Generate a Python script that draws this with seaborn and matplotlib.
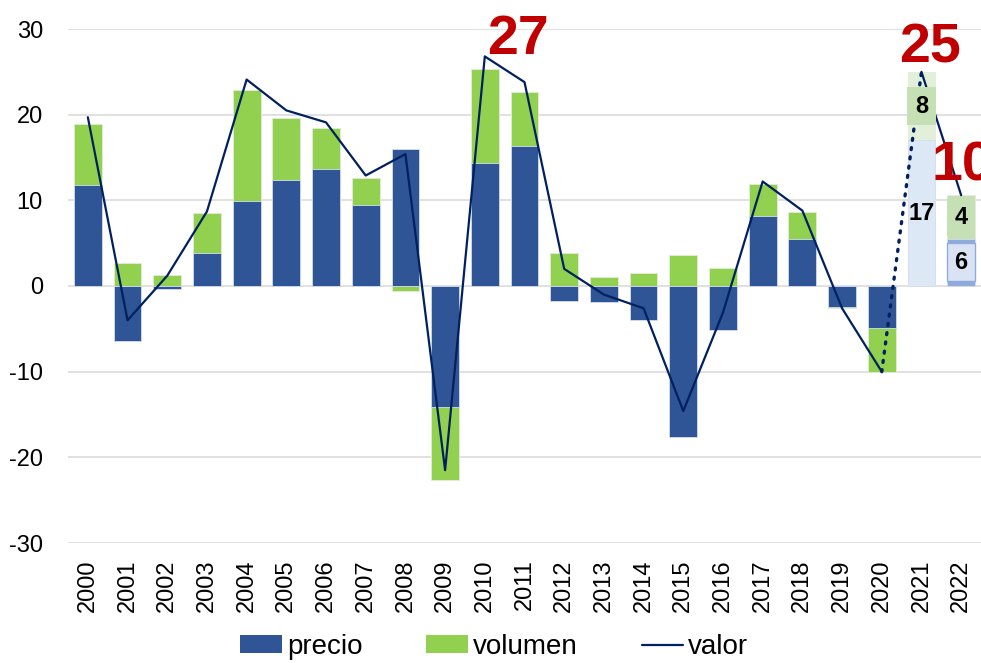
import numpy as np
import pandas as pd
import matplotlib.pyplot as plt
import seaborn as sns
from matplotlib.patches import Patch
from matplotlib.lines import Line2D

# DATA

years = ['2000', '2001', '2002', '2003', '2004', '2005', '2006', '2007',
         '2008', '2009', '2010', '2011', '2012', '2013', '2014', '2015',
         '2016', '2017', '2018', '2019', '2020', '2021', '2022']

precio = [11.8, -6.4, -0.3, 3.9, 9.9, 12.4, 13.6, 9.5, 16.0, -14.1, 14.3,
          16.4, -1.8, -1.9, -4.0, -17.6, -5.1, 8.2, 5.5, -2.5, -4.9, 17.0, 5.5]

volumen = [7.1, 2.7, 1.3, 4.6, 13.0, 7.2, 4.8, 3.1, -0.6, -8.5, 11.0,
           6.3, 3.8, 1.0, 1.5, 3.6, 2.1, 3.7, 3.1, -0.1, -5.1, 8.0, 5.1]

valor = [19.7, -4.0, 1.2, 8.7, 24.1, 20.5, 19.1, 12.9, 15.4, -21.5, 26.8,
         23.8, 2.0, -1.0, -2.6, -14.6, -3.1, 12.2, 8.8, -2.6, -10.0, 25.0, 10.6]

# data labels inside the forecast bars
forecast_years = ['2021', '2022']
precio_labels = ['17', '6']
volumen_labels = ['8', '4']

# big red labels on the valor line
highlight_years = ['2010', '2021', '2022']
highlight_labels = ['27', '25', '10']

last_real = '2020'

# COLOURS

blue = '#2f5597'
green = '#92d050'
line_color = '#002060'
red = '#c00000'

precio_colors = [blue] * (len(years) - 2) + ['#dce8f5', '#8faadc']
volumen_colors = [green] * (len(years) - 2) + ['#e2f0d9', '#c5e0b4']
precio_box = [dict(fc='none', ec='none'),
              dict(fc='#dae3f3', ec='#8faadc', lw=1.0)]
volumen_box = [dict(fc='#c5e0b4', ec='none'),
               dict(fc='#c5e0b4', ec='none')]

# PREPARE

df = pd.DataFrame({
    'year': years,
    'precio': precio,
    'volumen': volumen,
    'valor': valor
})

# stacked like Excel: positives on positives, negatives on negatives
same_sign = np.sign(df['precio']) == np.sign(df['volumen'])
df['vol_top'] = np.where(same_sign, df['precio'] + df['volumen'], df['volumen'])

# PLOT

sns.set_style('white')
plt.rcParams['font.family'] = ['Liberation Sans', 'DejaVu Sans']
plt.rcParams['axes.unicode_minus'] = False
plt.rcParams['text.color'] = 'black'
plt.rcParams['xtick.color'] = 'black'
plt.rcParams['ytick.color'] = 'black'

fig = plt.figure(figsize=(9.81, 6.63), dpi=100)
ax = fig.add_axes([68 / 981, 1 - 543 / 663, 913 / 981, 514 / 663])

sns.barplot(
    data=df, x='year', y='vol_top', hue='year',
    palette=volumen_colors, legend=False, saturation=1,
    errorbar=None, width=0.7, edgecolor='#e4ecd8', linewidth=0.6, ax=ax
)
sns.barplot(
    data=df, x='year', y='precio', hue='year',
    palette=precio_colors, legend=False, saturation=1,
    errorbar=None, width=0.7, edgecolor='#d5deec', linewidth=0.6, ax=ax
)

pos = np.arange(len(years))
k = years.index(last_real)

sns.lineplot(x=pos[:k + 1], y=valor[:k + 1], color=line_color,
             linewidth=1.6, ax=ax, zorder=3)
sns.lineplot(x=pos[k:k + 2], y=valor[k:k + 2], color=line_color,
             linewidth=2.4, linestyle=(0, (0.6, 2.2)),
             dash_capstyle='round', ax=ax, zorder=3)
sns.lineplot(x=pos[k + 1:], y=valor[k + 1:], color=line_color,
             linewidth=1.6, ax=ax, zorder=3)

# labels inside the forecast bars
for i, yr in enumerate(forecast_years):
    j = years.index(yr)
    p = precio[j]
    v = volumen[j]
    ax.text(j, p / 2, precio_labels[i], ha='center', va='center',
            fontsize=17, fontweight='bold', color='black', zorder=5,
            bbox=dict(boxstyle='square,pad=0.32', **precio_box[i]))
    ax.text(j, p + v / 2, volumen_labels[i], ha='center', va='center',
            fontsize=17, fontweight='bold', color='black', zorder=5,
            bbox=dict(boxstyle='square,pad=0.32', **volumen_box[i]))

# big red labels
offsets = [(24, 12), (6, 17), (1, 21)]
for yr, txt, off in zip(highlight_years, highlight_labels, offsets):
    j = years.index(yr)
    ax.annotate(txt, xy=(j, valor[j]), xytext=off,
                textcoords='offset points', ha='center', va='center',
                fontsize=40, fontweight='bold', color=red, zorder=6,
                annotation_clip=False)

# AXES

ax.set_ylim(-30, 30)
ax.set_xlim(-0.5, len(years) - 0.5)
ax.set_yticks(range(-30, 31, 10))
ax.grid(axis='y', color='#d9d9d9', linewidth=1.1)
ax.set_axisbelow(True)
ax.tick_params(axis='y', labelsize=17, length=0, pad=18, labelcolor='black')
ax.tick_params(axis='x', labelsize=17, length=0, pad=12, labelrotation=90,
               labelcolor='black')
ax.set_xlabel('')
ax.set_ylabel('')
sns.despine(ax=ax, left=True, bottom=True)

# LEGEND

handles = [
    Patch(facecolor=blue, edgecolor='none', label='precio'),
    Patch(facecolor=green, edgecolor='none', label='volumen'),
    Line2D([0], [0], color=line_color, linewidth=1.6, label='valor')
]
fig.legend(
    handles=handles, loc='center', bbox_to_anchor=(0.504, 0.024),
    ncol=3, frameon=False, fontsize=20, handlelength=1.5,
    handleheight=0.6, handletextpad=0.18, columnspacing=2.3,
    labelcolor='black'
)

fig.savefig('out.png', dpi=100)
